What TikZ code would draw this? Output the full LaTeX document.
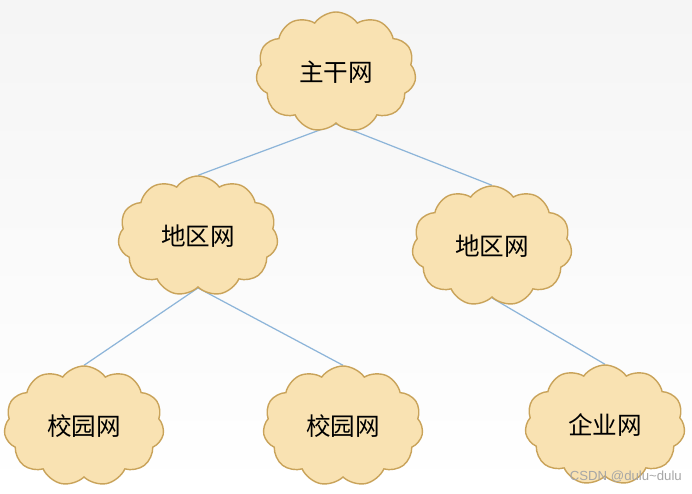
\documentclass[tikz,border=0pt]{standalone}
\usepackage{fontspec}
\newfontfamily\cjk{Noto Sans CJK SC}
\newfontfamily\wmfont{Liberation Sans}
\usetikzlibrary{shapes.symbols, backgrounds}
\definecolor{cloudfill}{HTML}{F9E2B2}
\definecolor{cloudedge}{HTML}{C9A35A}
\definecolor{linkblue}{HTML}{8DB5D9}
\tikzset{
  net/.style  = {cloud, cloud puffs=11, cloud puff arc=110, cloud ignores aspect,
                 draw=cloudedge, thick, fill=cloudfill, minimum width=3.2cm,
                 minimum height=2.4cm, inner sep=0pt,
                 font=\cjk\fontsize{14}{16}\selectfont},
  link/.style = {draw=linkblue, line width=0.7pt},
}
\begin{document}
\begin{tikzpicture}
\useasboundingbox (0,0) rectangle (13.84,9.86);

\begin{scope}[on background layer]
  \shade[top color=gray!8, bottom color=white] (0,0) rectangle (13.84,9.86);
\end{scope}

% Backbone
\node (core) [net] at (6.72,8.42) {主干网};

% Regional networks
\node (regl) [net] at (3.96,5.14) {地区网};
\node (regr) [net] at (9.84,4.94) {地区网};

% Access networks
\node (camp1) [net] at (1.68,1.34) {校园网};
\node (camp2) [net] at (6.86,1.34) {校园网};
\node (corp)  [net] at (12.10,1.36) {企业网};

% Links (behind the clouds)
\begin{scope}[on background layer]
  \draw [link] (core.south) -- (regl.north);
  \draw [link] (core.south) -- (regr.north);
  \draw [link] (regl.south) -- (camp1.north);
  \draw [link] (regl.south) -- (camp2.north);
  \draw [link] (regr.south) -- (corp.north);
\end{scope}

\node (wmark) [font=\wmfont\fontsize{7.5}{9}\selectfont, text=gray!70, anchor=east] at (13.76,0.32) {CSDN @dulu\textasciitilde dulu};

\end{tikzpicture}
\end{document}
